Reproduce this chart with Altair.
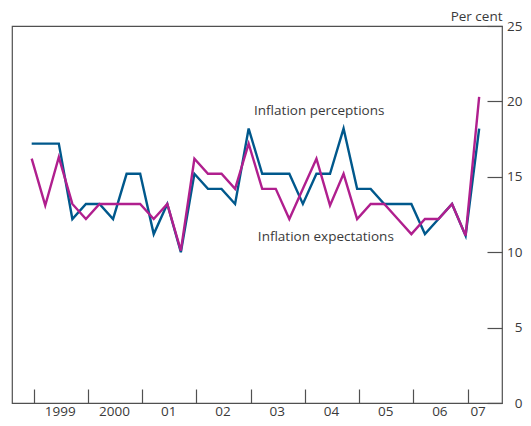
import json
import altair as alt
import pandas as pd

# Quarterly survey periods
periods = [
    "1999 Q1", "1999 Q2", "1999 Q3", "1999 Q4",
    "2000 Q1", "2000 Q2", "2000 Q3", "2000 Q4",
    "2001 Q1", "2001 Q2", "2001 Q3", "2001 Q4",
    "2002 Q1", "2002 Q2", "2002 Q3", "2002 Q4",
    "2003 Q1", "2003 Q2", "2003 Q3", "2003 Q4",
    "2004 Q1", "2004 Q2", "2004 Q3", "2004 Q4",
    "2005 Q1", "2005 Q2", "2005 Q3", "2005 Q4",
    "2006 Q1", "2006 Q2", "2006 Q3", "2006 Q4",
    "2007 Q1", "2007 Q2",
]

perceptions = [
    17.2, 17.2, 17.2, 12.2, 13.2, 13.2, 12.2, 15.2,
    15.2, 11.2, 13.2, 10.0, 15.2, 14.2, 14.2, 13.2,
    18.2, 15.2, 15.2, 15.2, 13.2, 15.2, 15.2, 18.2,
    14.2, 14.2, 13.2, 13.2, 13.2, 11.2, 12.2, 13.2,
    11.1, 18.2,
]

expectations = [
    16.2, 13.1, 16.3, 13.2, 12.2, 13.2, 13.2, 13.2,
    13.2, 12.2, 13.2, 10.1, 16.2, 15.2, 15.2, 14.2,
    17.2, 14.2, 14.2, 12.2, 14.2, 16.2, 13.1, 15.2,
    12.2, 13.2, 13.2, 12.2, 11.2, 12.2, 12.2, 13.2,
    11.1, 20.3,
]

series_names = ["Inflation perceptions", "Inflation expectations"]
series_colors = ["#00588C", "#B01F8E"]

year_ticks = [1999, 2000, 2001, 2002, 2003, 2004, 2005, 2006, 2007]
year_labels = ["1999", "2000", "01", "02", "03", "04", "05", "06", "07"]
y_ticks = [0, 5, 10, 15, 20, 25]

# annotation label anchors (data coordinates)
ann_text = ["Inflation perceptions", "Inflation expectations"]
ann_t = [2003.10, 2003.17]
ann_v = [19.35, 10.98]

FONT = "Open Sans"
GREY = "#505050"
TXT = "#3a3a3a"


def to_t(p):
    y, q = p.split(" Q")
    return int(y) + (int(q) - 1) / 4


rows = []
for p, a, b in zip(periods, perceptions, expectations):
    rows.append({"t": to_t(p), "period": p, "series": series_names[0], "value": a})
    rows.append({"t": to_t(p), "period": p, "series": series_names[1], "value": b})
df = pd.DataFrame(rows)

ann = pd.DataFrame({"text": ann_text, "t": ann_t, "v": ann_v})

tick_vals = [y + 0.037 for y in year_ticks]
label_expr = f"{json.dumps(year_labels)}[round(datum.value - {year_ticks[0]})]"

x_scale = alt.Scale(domain=[1998.637, 2007.671], nice=False, zero=False)
y_scale = alt.Scale(domain=[0, 25], nice=False)

x_axis = alt.Axis(
    orient="bottom", values=tick_vals, labelExpr=label_expr,
    offset=-14, tickSize=14, domain=False, grid=False,
    tickColor=GREY, tickWidth=1.2,
    labelColor=TXT, labelFont=FONT, labelFontSize=13.5,
    labelPadding=1, labelFlush=False, labelOverlap=False, labelBound=False,
    labelOffset={"condition": {"test": "datum.value > 2007", "value": 10}, "value": 26},
    title=None,
)
y_axis = alt.Axis(
    orient="right", values=y_ticks, offset=-15, tickSize=15,
    domain=False, grid=False, tickColor=GREY, tickWidth=1.2,
    labelColor=TXT, labelFont=FONT, labelFontSize=13.5,
    labelAlign="right", labelPadding=20, labelFlush=False, labelOverlap=False,
    title="Per cent", titleAngle=0, titleX=15, titleY=-10,
    titleAlign="right", titleBaseline="middle", titleFont=FONT,
    titleFontSize=13.5, titleFontWeight="normal", titleColor=TXT,
)

lines = alt.Chart(df).mark_line(strokeWidth=2.4, strokeJoin="miter").encode(
    x=alt.X("t:Q", scale=x_scale, axis=x_axis),
    y=alt.Y("value:Q", scale=y_scale, axis=y_axis),
    color=alt.Color("series:N", scale=alt.Scale(domain=series_names, range=series_colors), legend=None),
    detail="series:N",
)

labels = alt.Chart(ann).mark_text(
    align="left", baseline="middle", font=FONT, fontSize=13.5, color=TXT
).encode(
    x=alt.X("t:Q", scale=x_scale),
    y=alt.Y("v:Q", scale=y_scale),
    text="text:N",
)

chart = (
    alt.layer(lines, labels)
    .properties(
        width=490, height=377,
        autosize=alt.AutoSizeParams(type="none"),
        padding={"left": 4, "top": 18, "right": 21, "bottom": 15},
    )
    .configure(background="white")
    .configure_view(stroke=GREY, strokeWidth=1.2)
)

chart.save("out.html", embed_options={"renderer": "svg", "actions": False})
